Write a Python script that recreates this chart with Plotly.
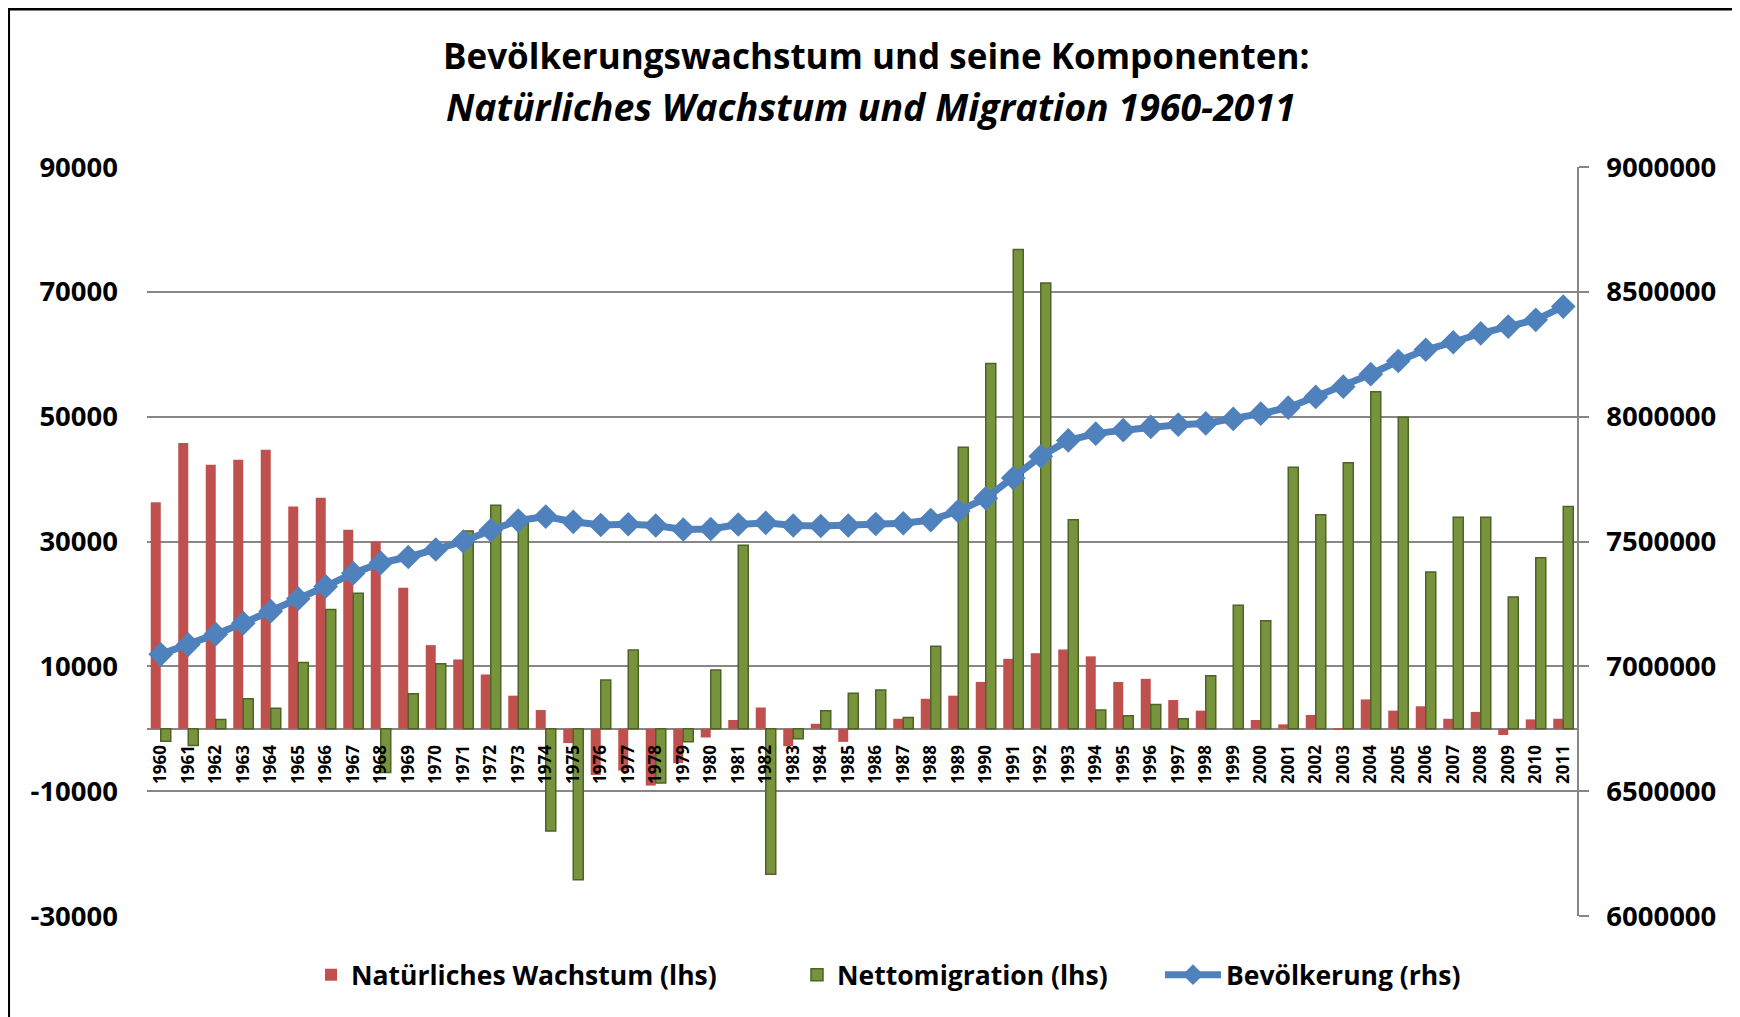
import plotly.graph_objects as go

# ---------------- data ----------------
years = [str(y) for y in range(1960, 2012)]

natural_growth = [
    36300, 45800, 42300, 43100, 44700, 35600, 37000, 31900, 30000, 22600,
    13400, 11100, 8700, 5300, 3000, -2300, -7400, -6700, -9100, -5500,
    -1400, 1400, 3400, -2800, 800, -2100, 0, 1600, 4800, 5300,
    7500, 11200, 12100, 12700, 11600, 7500, 8000, 4600, 2900, 0,
    1400, 700, 2200, -200, 4700, 2900, 3600, 1600, 2700, -1000,
    1500, 1600,
]

net_migration = [
    -2000, -2700, 1500, 4800, 3300, 10600, 19100, 21700, -7000, 5600,
    10400, 31700, 35800, 33500, -16400, -24200, 7800, 12600, -8700, -2100,
    9400, 29400, -23300, -1600, 2900, 5700, 6200, 1800, 13200, 45100,
    58500, 76800, 71400, 33500, 3000, 2100, 3900, 1600, 8500, 19800,
    17300, 41900, 34300, 42600, 54000, 49900, 25100, 33900, 33900, 21100,
    27400, 35600,
]

population = [
    7048000, 7087000, 7129000, 7173000, 7221000, 7271000, 7320000, 7373000, 7414000, 7438000,
    7468000, 7500000, 7545000, 7584000, 7600000, 7579000, 7566000, 7569000, 7564000, 7548000,
    7550000, 7568000, 7575000, 7564000, 7562000, 7564000, 7570000, 7573000, 7586000, 7622000,
    7673000, 7754000, 7841000, 7905000, 7932000, 7946000, 7959000, 7968000, 7973000, 7991000,
    8012000, 8036000, 8079000, 8120000, 8170000, 8223000, 8268000, 8298000, 8334000, 8361000,
    8388000, 8441000,
]

left_ticks = [-30000, -10000, 10000, 30000, 50000, 70000, 90000]
left_tick_labels = [str(v) for v in left_ticks]
right_ticks = [6000000, 6500000, 7000000, 7500000, 8000000, 8500000, 9000000]
right_tick_labels = [str(v) for v in right_ticks]
left_range = [-30000, 90000]
right_range = [6000000, 9000000]

title_line1 = "Bevölkerungswachstum und seine Komponenten:"
title_line2 = "Natürliches Wachstum und Migration 1960-2011"
names = ["Natürliches Wachstum (lhs)", "Nettomigration (lhs)", "Bevölkerung (rhs)"]

# ---------------- layout constants ----------------
OFF = 8                      # page offset of the plot div (body margin)
W, H = 1740 - OFF, 1017 - OFF
ML = 147 - OFF
MR = W - (1577 - OFF)
MT = 167 - OFF
MB = H - (916 - OFF)
PW, PH = W - ML - MR, H - MT - MB


def fx(page_x):
    return (page_x - OFF - ML) / PW


def fy(page_y):
    return (H - MB - (page_y - OFF)) / PH


RED = "#C0504D"
GREEN = "#77933C"
GREEN_EDGE = "#4F6228"
BLUE = "#4F81BD"
GRID = "#878787"
FONT = "Open Sans"

fig = go.Figure()

fig.add_trace(go.Bar(
    x=years, y=natural_growth, name=names[0],
    marker=dict(color=RED, line=dict(width=0)),
    legend="legend", showlegend=True,
))
fig.add_trace(go.Bar(
    x=years, y=net_migration, name=names[1],
    marker=dict(color=GREEN, line=dict(color=GREEN_EDGE, width=1.5)),
    legend="legend2", showlegend=True,
))
fig.add_trace(go.Scatter(
    x=years, y=population, name=names[2], yaxis="y2",
    mode="lines+markers",
    line=dict(color=BLUE, width=7),
    marker=dict(symbol="diamond", size=19, color=BLUE),
    legend="legend3", showlegend=True,
))

legend_font = dict(family=FONT, size=26.5, color="black", weight="bold")
legend_common = dict(orientation="h", yanchor="middle", y=fy(975),
                     xanchor="left", font=legend_font, bgcolor="rgba(0,0,0,0)",
                     borderwidth=0)

fig.update_layout(
    width=W, height=H,
    margin=dict(l=ML, r=MR, t=MT, b=MB, pad=0),
    paper_bgcolor="white", plot_bgcolor="white",
    showlegend=True,
    barmode="group", bargap=0.273, bargroupgap=0,
    font=dict(family=FONT, color="black"),
    xaxis=dict(
        type="category", categoryorder="array", categoryarray=years,
        anchor="free",
        position=(0 - left_range[0]) / (left_range[1] - left_range[0]),
        tickangle=-90, ticks="", showline=False, showgrid=False,
        tickfont=dict(family=FONT, size=17, color="black", weight="bold"),
        ticklabelstandoff=12,
        range=[-0.5, len(years) - 0.5],
    ),
    yaxis=dict(
        range=left_range, tickvals=left_ticks, ticktext=left_tick_labels,
        showgrid=True, gridcolor=GRID, gridwidth=1.5,
        zeroline=True, zerolinecolor=GRID, zerolinewidth=1.5,
        showline=False, ticks="",
        tickfont=dict(family=FONT, size=27.5, color="black", weight="bold"),
        ticklabelstandoff=28,
    ),
    yaxis2=dict(
        range=right_range, tickvals=right_ticks, ticktext=right_tick_labels,
        overlaying="y", side="right", showgrid=False, zeroline=False,
        showline=True, linecolor=GRID, linewidth=1.5,
        ticks="outside", ticklen=10, tickcolor=GRID, tickwidth=1.5,
        tickfont=dict(family=FONT, size=27.5, color="black", weight="bold"),
        ticklabelstandoff=12,
    ),
    legend=dict(x=fx(311), itemwidth=30, **legend_common),
    legend2=dict(x=fx(797), itemwidth=30, **legend_common),
    legend3=dict(x=fx(1160), itemwidth=56, **legend_common),
    annotations=[
        dict(text="<b>" + title_line1 + "</b>", xref="paper", yref="paper",
             x=fx(876), y=fy(55.5), xanchor="center", yanchor="middle",
             showarrow=False, font=dict(family=FONT, size=35, color="black")),
        dict(text="<b><i>" + title_line2 + "</i></b>", xref="paper", yref="paper",
             x=fx(871), y=fy(106.5), xanchor="center", yanchor="middle",
             showarrow=False, font=dict(family=FONT, size=37.5, color="black")),
    ],
    shapes=[
        dict(type="rect", xref="paper", yref="paper",
             x0=fx(OFF + 0.8), x1=fx(1735.5), y0=fy(1060), y1=fy(OFF + 1.3),
             line=dict(color="black", width=2.5), fillcolor="rgba(0,0,0,0)",
             layer="below"),
    ],
)

fig.write_html("out.html")
